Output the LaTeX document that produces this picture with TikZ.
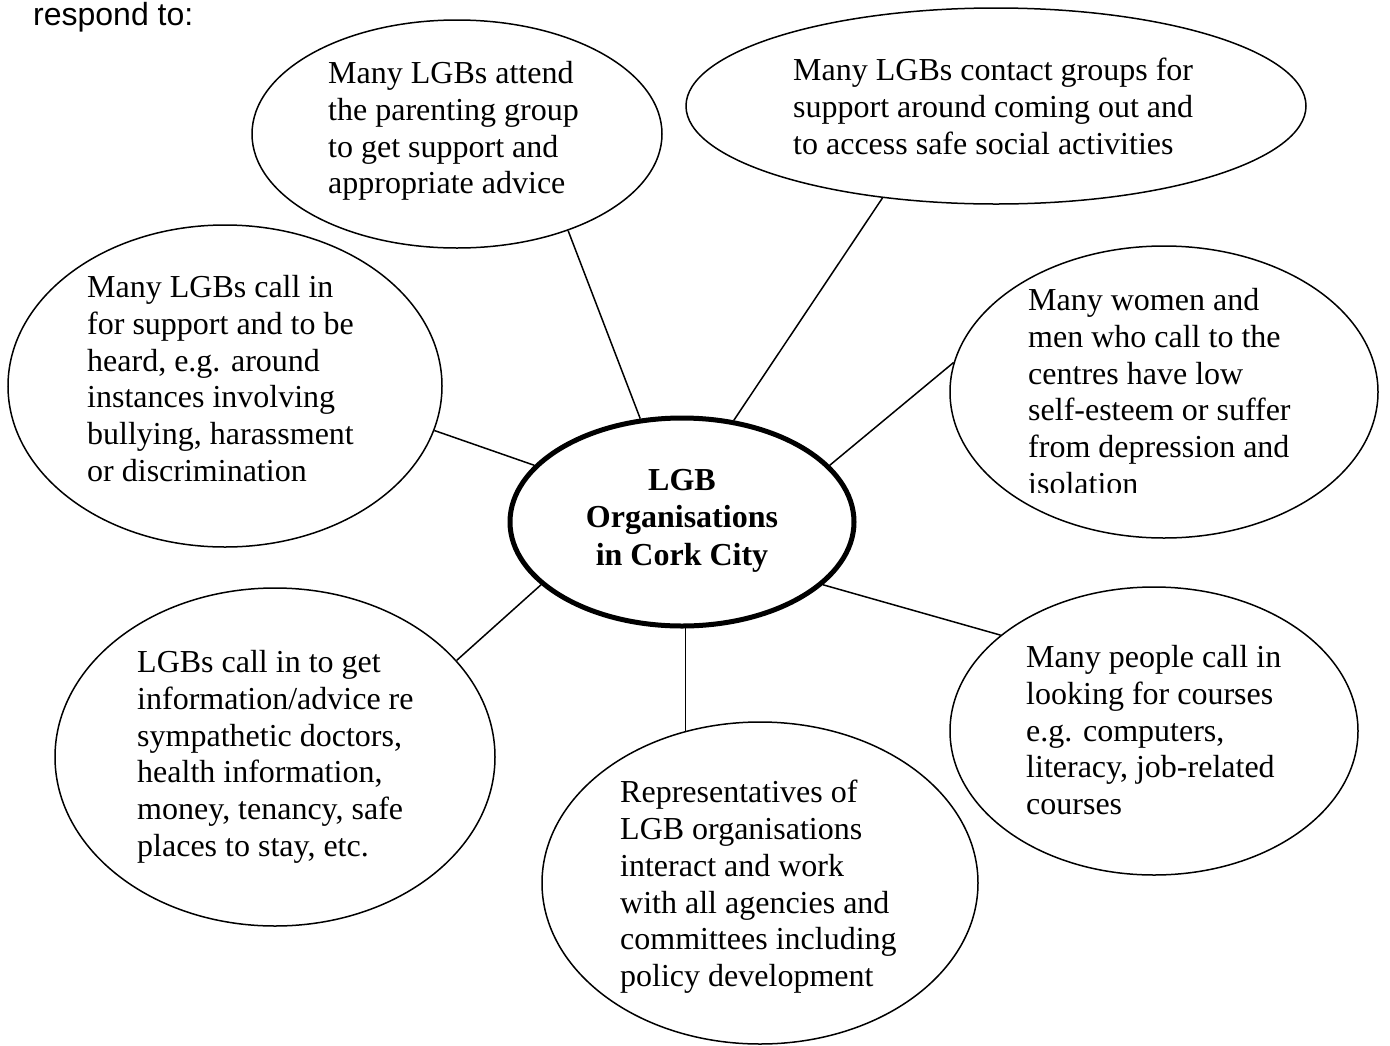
\documentclass[tikz,border=0pt]{standalone}
\usepackage{fontspec}
\setmainfont{Liberation Serif}
\setsansfont{Liberation Sans}
\usepackage{tikz}
\usetikzlibrary{shapes,positioning}

\begin{document}
\begin{tikzpicture}[x=1pt, y=-1pt,
    bubble/.style={ellipse, draw, line width=1.5pt, inner sep=0pt},
    hub/.style={ellipse, draw, line width=5pt, inner sep=0pt},
    note/.style={anchor=north west, inner sep=0pt, align=left, font=\fontsize{32}{36.8}\selectfont},
    link/.style={line width=1.5pt}
]
\useasboundingbox (0,0) rectangle (1390,1045);

% Caption
\node[anchor=base west, inner sep=0pt, font=\sffamily\fontsize{32}{36.8}\selectfont] (caption) at (33,25) {respond to:};

% Centre
\node[hub, minimum width=344pt, minimum height=208pt] (hub) at (682,522) {};
\node[anchor=north, inner sep=0pt, align=center, font=\bfseries\fontsize{32}{37.5}\selectfont] (hubtext) at (682,469) {LGB\\Organisations\\in Cork City};

% Bubbles
\node[bubble, minimum width=410pt, minimum height=228pt] (parenting) at (457,134) {};
\node[bubble, minimum width=620pt, minimum height=196pt] (comingout) at (996,106) {};
\node[bubble, minimum width=434pt, minimum height=322pt] (heard) at (225,386) {};
\node[bubble, minimum width=428pt, minimum height=292pt] (esteem) at (1164,392) {};
\node[bubble, minimum width=440pt, minimum height=338pt] (advice) at (275,757) {};
\node[bubble, minimum width=436pt, minimum height=322pt] (agencies) at (760,883) {};
\node[bubble, minimum width=408pt, minimum height=288pt] (courses) at (1154,731) {};

% Texts
\node[note] (parentingtext) at (328,61) {Many LGBs attend\\the parenting group\\to get support and\\appropriate advice};
\node[note] (comingouttext) at (793,58) {Many LGBs contact groups for\\support around coming out and\\to access safe social activities};
\node[note] (heardtext) at (87,275) {Many LGBs call in\\for support and to be\\heard, e.g. around\\instances involving\\bullying, harassment\\or discrimination};
\begin{scope}
  \clip (1000,250) rectangle (1360,492);
  \node[note] (esteemtext) at (1028,288) {Many women and\\men who call to the\\centres have low\\self-esteem or suffer\\from depression and\\isolation};
\end{scope}
\node[note] (advicetext) at (137,650) {LGBs call in to get\\information/advice re\\sympathetic doctors,\\health information,\\money, tenancy, safe\\places to stay, etc.};
\node[note] (agenciestext) at (620,780) {Representatives of\\LGB organisations\\interact and work\\with all agencies and\\committees including\\policy development};
\node[note] (coursestext) at (1026,645) {Many people call in\\looking for courses\\e.g. computers,\\literacy, job-related\\courses};

% Links
\draw[link] (hub.112.9) -- (parenting.319.5);
\draw[link] (hub.63.7) -- (comingout.219.4);
\draw[link] (hub.159.2) -- (heard.348);
\draw[link] (hub.21.7) -- (esteem.172.9);
\draw[link] (hub.204.8) -- (advice.28.3);
\draw[link] (hub.272) -- (hub.272 |- agencies.116);
\draw[link] (hub.336.3) -- (courses.148.1);

\end{tikzpicture}
\end{document}
